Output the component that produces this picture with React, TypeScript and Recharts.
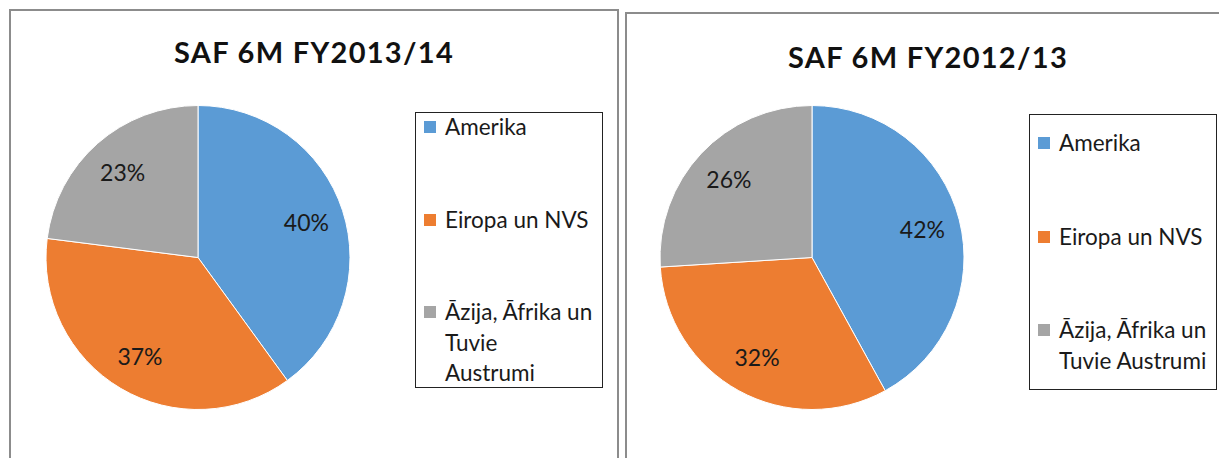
import React from "react";
import { PieChart, Pie, Cell, Legend } from "recharts";

const regions = ["Amerika", "Eiropa un NVS", "Āzija, Āfrika un Tuvie Austrumi"];
const share2013 = [40, 37, 23];
const share2012 = [42, 32, 26];
const titles = ["SAF 6M FY2013/14", "SAF 6M FY2012/13"];
const colors = ["#5B9BD5", "#ED7D31", "#A5A5A5"];
const legendLines2013 = [["Amerika"], ["Eiropa un NVS"], ["Āzija, Āfrika un", "Tuvie", "Austrumi"]];
const legendLines2012 = [["Amerika"], ["Eiropa un NVS"], ["Āzija, Āfrika un", "Tuvie Austrumi"]];

const FONT = "Lato, 'Open Sans', 'DejaVu Sans', sans-serif";
const RAD = Math.PI / 180;

const renderLabel = (props: any) => {
  const { cx, cy, midAngle, outerRadius, value } = props;
  const r = outerRadius * 0.75;
  const x = cx + r * Math.cos(-midAngle * RAD);
  const y = cy + r * Math.sin(-midAngle * RAD);
  return (
    <text x={x} y={y} textAnchor="middle" dominantBaseline="central" fontSize={23} fill="#1a1a1a" fontFamily={FONT}>
      {value}%
    </text>
  );
};

type PanelProps = {
  left: number;
  title: string;
  values: number[];
  lines: string[][];
  titleTop: number;
  legendTop: number;
  itemTops: number[];
};

const Panel = ({ left, title, values, lines, titleTop, legendTop, itemTops }: PanelProps) => {
  const data = regions.map((name, i) => ({ name, value: values[i] }));
  const LegendContent = (props: any) => {
    const payload = props.payload || [];
    return (
      <div
        style={{
          position: "relative",
          width: 186,
          height: 274,
          border: "1.5px solid #222",
          background: "#fff",
          fontFamily: FONT,
          fontSize: 22.5,
          color: "#1a1a1a",
        }}
      >
        {payload.map((entry: any, i: number) => (
          <div key={i} style={{ position: "absolute", left: 8, top: itemTops[i], display: "flex", alignItems: "flex-start" }}>
            <div style={{ width: 12, height: 12, background: entry.color, marginTop: 9, marginRight: 9, flex: "none" }} />
            <div style={{ lineHeight: "30.5px", whiteSpace: "nowrap" }}>
              {lines[i].map((l, k) => (
                <div key={k}>{l}</div>
              ))}
            </div>
          </div>
        ))}
      </div>
    );
  };
  return (
    <div style={{ position: "absolute", left, top: 0, width: 610, height: 458 }}>
      <div
        style={{
          position: "absolute",
          left: 0,
          width: 628,
          top: titleTop,
          textAlign: "center",
          fontFamily: FONT,
          fontWeight: 700,
          fontSize: 29,
          letterSpacing: 1.3,
          color: "#111",
        }}
      >
        {title}
      </div>
      <div style={{ position: "absolute", left: 0, top: 0 }}>
        <PieChart width={610} height={458} margin={{ top: 0, right: 0, bottom: 0, left: 0 }}>
          <Pie
            data={data}
            dataKey="value"
            nameKey="name"
            cx={198}
            cy={257.5}
            outerRadius={152}
            startAngle={90}
            endAngle={-270}
            stroke="#ffffff"
            strokeWidth={1}
            labelLine={false}
            label={renderLabel}
            isAnimationActive={false}
          >
            {data.map((d, i) => (
              <Cell key={d.name} fill={colors[i]} />
            ))}
          </Pie>
          <Legend
            layout="vertical"
            align="right"
            verticalAlign="top"
            content={<LegendContent />}
            wrapperStyle={{ position: "absolute", left: 415, top: legendTop, width: 190, height: 278 }}
          />
        </PieChart>
      </div>
    </div>
  );
};

export default function App() {
  return (
    <div style={{ position: "absolute", left: 0, top: 0, width: 1219, height: 458, overflow: "hidden", background: "#fff" }}>
      <div style={{ position: "absolute", left: 9, top: 9, width: 606, height: 500, border: "2px solid #8c8c8c" }} />
      <div style={{ position: "absolute", left: 625, top: 12, width: 700, height: 500, border: "2px solid #8c8c8c" }} />
      <Panel
        left={0}
        title={titles[0]}
        values={share2013}
        lines={legendLines2013}
        titleTop={34}
        legendTop={112}
        itemTops={[-1, 92, 184]}
      />
      <Panel
        left={614}
        title={titles[1]}
        values={share2012}
        lines={legendLines2012}
        titleTop={39}
        legendTop={114}
        itemTops={[13, 107, 200]}
      />
    </div>
  );
}
